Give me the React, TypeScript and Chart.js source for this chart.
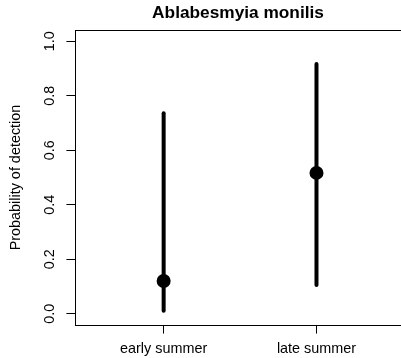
import React, { useEffect, useRef } from 'react';
import { Chart, registerables } from 'chart.js';

Chart.register(...registerables);

const TITLE = 'Ablabesmyia monilis';
const Y_TITLE = 'Probability of detection';
const categories = ['early summer', 'late summer'];
const estimates = [0.12, 0.517];
const lower = [0.011, 0.105];
const upper = [0.736, 0.917];
const yTicks = [0, 0.2, 0.4, 0.6, 0.8, 1.0];

const FONT = "'Liberation Sans', Arial, Helvetica, sans-serif";

export default function App() {
  const ref = useRef<HTMLCanvasElement>(null);

  useEffect(() => {
    const canvas = ref.current;
    if (!canvas) return;
    const xPos = categories.map((_, i) => i + 1);

    const intervalSets = categories.map((c, i) => ({
      type: 'scatter' as const,
      label: c + ' interval',
      data: [
        { x: xPos[i], y: lower[i] },
        { x: xPos[i], y: upper[i] },
      ],
      showLine: true,
      borderColor: '#000',
      borderWidth: 4,
      borderCapStyle: 'round' as const,
      pointRadius: 0,
      pointHoverRadius: 0,
      fill: false,
    }));

    const pointSet = {
      type: 'scatter' as const,
      label: 'estimate',
      data: categories.map((_, i) => ({ x: xPos[i], y: estimates[i] })),
      pointRadius: 7,
      pointHoverRadius: 7,
      pointBackgroundColor: '#000',
      pointBorderColor: '#000',
      pointBorderWidth: 0,
      showLine: false,
    };

    const topBorder = {
      id: 'topBorder',
      afterDraw(chart: any) {
        const { ctx, chartArea } = chart;
        ctx.save();
        ctx.strokeStyle = '#000';
        ctx.lineWidth = 1;
        ctx.beginPath();
        const y = Math.round(chartArea.top) + 0.5;
        ctx.moveTo(chartArea.left, y);
        ctx.lineTo(chartArea.right, y);
        ctx.stroke();
        ctx.restore();
      },
    };

    const chart = new Chart(canvas, {
      type: 'scatter',
      data: { datasets: [...intervalSets, pointSet] as any },
      plugins: [topBorder],
      options: {
        responsive: false,
        animation: false,
        devicePixelRatio: 1,
        layout: { padding: 0, autoPadding: false },
        events: [],
        plugins: {
          legend: { display: false },
          tooltip: { enabled: false },
          title: {
            display: true,
            text: TITLE,
            fullSize: false,
            color: '#000',
            font: { family: FONT, size: 17.28, weight: 'bold', lineHeight: 1.2 },
            padding: { top: 2.9, bottom: 6.4 },
          },
        },
        scales: {
          x: {
            type: 'linear',
            min: 0.42,
            max: 2.553,
            afterBuildTicks: (s: any) => {
              s.ticks = xPos.map((v) => ({ value: v }));
            },
            afterFit: (s: any) => {
              s.height = 33;
              s.paddingLeft = 0;
              s.paddingRight = 0;
            },
            grid: {
              display: true,
              drawOnChartArea: false,
              drawTicks: true,
              tickLength: 8.6,
              tickColor: '#000',
              tickWidth: 1,
            },
            border: { display: true, color: '#000', width: 1 },
            ticks: {
              color: '#000',
              padding: 7.2,
              maxRotation: 0,
              minRotation: 0,
              autoSkip: false,
              font: { family: FONT, size: 14.4 },
              callback: (_v: any, i: number) => categories[i],
            },
          },
          y: {
            type: 'linear',
            min: -0.0416,
            max: 1.0416,
            afterBuildTicks: (s: any) => {
              s.ticks = yTicks.map((v) => ({ value: v }));
            },
            afterFit: (s: any) => {
              s.width = 75;
              s.paddingTop = 0;
              s.paddingBottom = 0;
            },
            grid: {
              display: true,
              drawOnChartArea: false,
              drawTicks: true,
              tickLength: 8.6,
              tickColor: '#000',
              tickWidth: 1,
            },
            border: { display: true, color: '#000', width: 1 },
            ticks: {
              color: '#000',
              padding: 6,
              minRotation: 90,
              maxRotation: 90,
              crossAlign: 'center',
              autoSkip: false,
              font: { family: FONT, size: 14.4 },
              callback: (v: any) => Number(v).toFixed(1),
            },
            title: {
              display: true,
              text: Y_TITLE,
              color: '#000',
              font: { family: FONT, size: 14.4, lineHeight: 1.2 },
              padding: { top: 7, bottom: 0 },
            },
          },
        },
      } as any,
    });

    return () => chart.destroy();
  }, []);

  return (
    <div style={{ position: 'absolute', left: 0, top: 0, width: 401, height: 358, background: '#fff' }}>
      <canvas ref={ref} width={401} height={358} style={{ display: 'block' }} />
    </div>
  );
}
